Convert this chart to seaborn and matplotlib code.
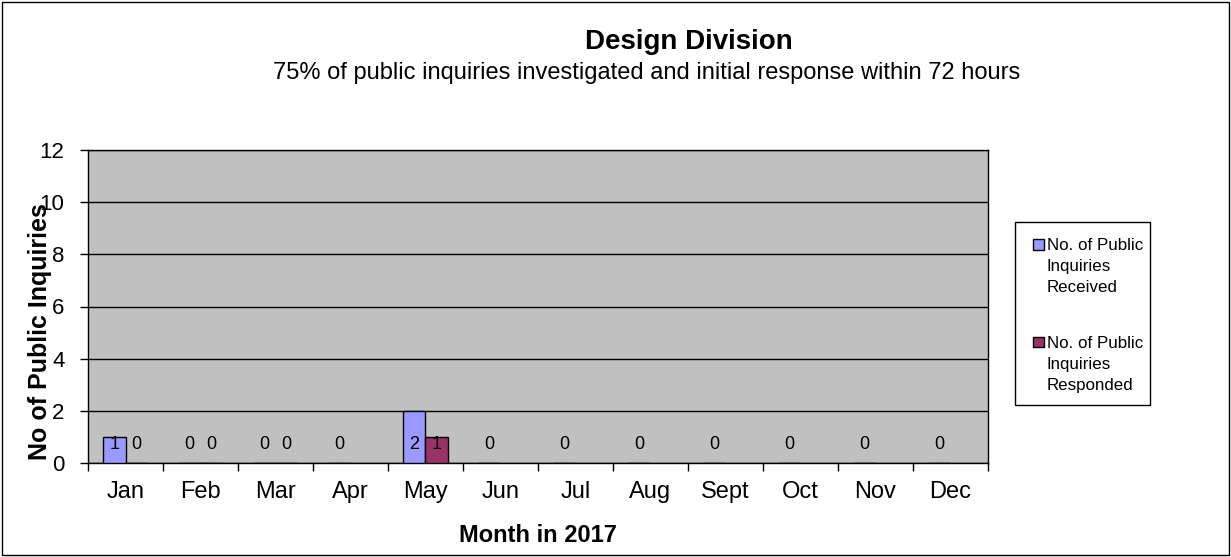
import numpy as np
import pandas as pd
import matplotlib
matplotlib.use('Agg')
import matplotlib.pyplot as plt
import seaborn as sns
from matplotlib.patches import Rectangle

# ── Data ──────────────────────────────────────────────────────────────────
months = ['Jan', 'Feb', 'Mar', 'Apr', 'May', 'Jun', 'Jul', 'Aug', 'Sept', 'Oct', 'Nov', 'Dec']
received = [1, 0, 0, 0, 2, 0, 0, 0, 0, 0, 0, 0]
responded = [0, 0, 0, np.nan, 1, np.nan, np.nan, np.nan, np.nan, np.nan, np.nan, np.nan]
series_names = ['No. of Public\nInquiries\nReceived', 'No. of Public\nInquiries\nResponded']
colors = ['#9999FF', '#993366']

df = pd.DataFrame({
    'Month': months * 2,
    'Series': [series_names[0]] * 12 + [series_names[1]] * 12,
    'Value': received + responded,
})

sns.set_style('white')
plt.rcParams['font.family'] = ['Liberation Sans', 'DejaVu Sans']
plt.rcParams.update({'text.color': 'black', 'axes.labelcolor': 'black',
                     'xtick.color': 'black', 'ytick.color': 'black'})

fig = plt.figure(figsize=(12.31, 5.57), dpi=100)
ax = fig.add_axes([88 / 1231, 1 - 463 / 557, 900 / 1231, 313 / 557])

sns.barplot(data=df, x='Month', y='Value', hue='Series', order=months,
            hue_order=series_names, palette=colors, width=0.6,
            edgecolor='black', linewidth=1, saturation=1, ax=ax, zorder=3)

ax.set_facecolor('#C0C0C0')
ax.set_ylim(0, 12)
ax.set_xlim(-0.5, 11.5)
ax.set_yticks(range(0, 13, 2))
ax.yaxis.grid(True, color='black', linewidth=1, zorder=1)
ax.set_axisbelow(True)
for s in ax.spines.values():
    s.set_color('black')
    s.set_linewidth(1)

# tick marks between months, labels at group centres
ax.set_xticks(np.arange(-0.5, 12, 1), minor=True)
ax.tick_params(axis='x', which='major', length=0, labelsize=17, pad=13)
ax.tick_params(axis='x', which='minor', length=6, width=1, direction='out', bottom=True)
ax.tick_params(axis='y', length=6, width=1, direction='out', left=True, labelsize=16, pad=11)

# value labels
for cont in ax.containers:
    for p in cont.patches:
        h = p.get_height()
        if np.isnan(h):
            continue
        ax.text(p.get_x() + p.get_width() / 2, 0.7, f'{int(h)}',
                ha='center', va='center', fontsize=13, zorder=5)

ax.set_xlabel('Month in 2017', fontsize=17, fontweight='bold', va='center')
ax.xaxis.set_label_coords(0.5, -0.233)
ax.set_ylabel('No of Public Inquiries', fontsize=18, fontweight='bold')
ax.yaxis.set_label_coords(-0.040, 0.42)

leg = ax.legend(loc='upper left', bbox_to_anchor=(1022 / 1231, 1 - 238 / 557),
                bbox_transform=fig.transFigure, frameon=False,
                fontsize=12.2, handlelength=1.3, handleheight=0.6, handletextpad=0.15,
                labelspacing=2.4, borderpad=0, borderaxespad=0)
for h in leg.legend_handles:
    h.set_edgecolor('black')
    h.set_y(h.get_y() + 16)
    h.set_x(h.get_x() + 8)
    h.set_width(h.get_width() * 0.5)
for t in leg.get_texts():
    t.set_linespacing(1.5)

fig.patches.append(Rectangle((1015 / 1231, 1 - 405 / 557), 135 / 1231, 183 / 557,
                             transform=fig.transFigure, fill=False,
                             edgecolor='black', linewidth=1))

fig.text(689 / 1231, 1 - 42 / 557, 'Design Division', ha='center', va='center',
         fontsize=20, fontweight='bold')
fig.text(647 / 1231, 1 - 73 / 557,
         '75% of public inquiries investigated and initial response within 72 hours',
         ha='center', va='center', fontsize=17)

fig.patches.append(Rectangle((0.002, 0.003), 0.996, 0.994, transform=fig.transFigure,
                             fill=False, edgecolor='black', linewidth=1))

plt.savefig('out.png', dpi=100)
